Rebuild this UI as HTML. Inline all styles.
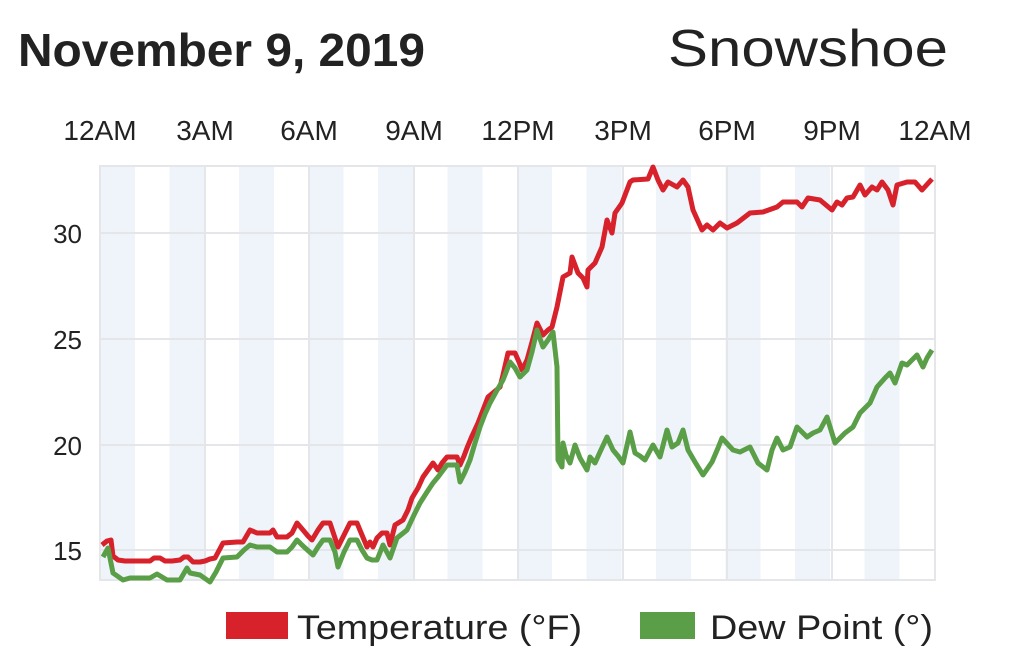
<!DOCTYPE html>
<html><head><meta charset="utf-8"><style>
html,body{margin:0;padding:0;background:#fff;}
svg{display:block;}
text{font-family:"Liberation Sans",sans-serif;fill:#222;}
</style></head><body>
<svg width="1024" height="652" viewBox="0 0 1024 652" xmlns="http://www.w3.org/2000/svg">
<rect width="1024" height="652" fill="#fff"/>
<text x="18" y="66" font-size="46" font-weight="bold" textLength="407" lengthAdjust="spacingAndGlyphs">November 9, 2019</text>
<text x="668" y="66" font-size="52" textLength="280" lengthAdjust="spacingAndGlyphs">Snowshoe</text>
<g font-size="28" text-anchor="middle">
<text x="100" y="140">12AM</text><text x="205" y="140">3AM</text><text x="309" y="140">6AM</text><text x="414" y="140">9AM</text><text x="518" y="140">12PM</text><text x="623" y="140">3PM</text><text x="727" y="140">6PM</text><text x="832" y="140">9PM</text><text x="935" y="140">12AM</text>
</g>
<g fill="#eef4fa">
<rect x="100" y="166" width="35" height="414"/><rect x="169.5" y="166" width="35" height="414"/><rect x="239" y="166" width="35" height="414"/><rect x="308.5" y="166" width="35" height="414"/><rect x="378" y="166" width="35" height="414"/><rect x="447.5" y="166" width="35" height="414"/><rect x="517" y="166" width="35" height="414"/><rect x="586.5" y="166" width="35" height="414"/><rect x="656" y="166" width="35" height="414"/><rect x="725.5" y="166" width="35" height="414"/><rect x="795" y="166" width="35" height="414"/><rect x="864.5" y="166" width="35" height="414"/>
</g>
<g stroke="#e4e6ea" stroke-width="2" fill="none">
<rect x="100" y="166" width="835" height="414"/>
<line x1="205" y1="166" x2="205" y2="580"/><line x1="309" y1="166" x2="309" y2="580"/><line x1="414" y1="166" x2="414" y2="580"/><line x1="518" y1="166" x2="518" y2="580"/><line x1="623" y1="166" x2="623" y2="580"/><line x1="727" y1="166" x2="727" y2="580"/><line x1="832" y1="166" x2="832" y2="580"/>
<line x1="100" y1="233" x2="935" y2="233"/><line x1="100" y1="339" x2="935" y2="339"/><line x1="100" y1="445" x2="935" y2="445"/><line x1="100" y1="550" x2="935" y2="550"/>
</g>
<g font-size="26" text-anchor="end">
<text x="82" y="243">30</text><text x="82" y="349">25</text><text x="82" y="455">20</text><text x="82" y="560">15</text>
</g>
<polyline fill="none" stroke="#d7212b" stroke-width="5" stroke-linejoin="round" points="102,545 107,541 111,540 113,556 118,560 125,561 150,561 154,558 160,558 165,561 172,561 180,560 184,557 188,557 193,562 200,562 205,561 210,559 215,558 223,543 237,542 243,542 250,530 257,533 270,533 273,530 277,537 287,537 292,533 297,523 303,530 308,536 312,540 318,530 323,523 330,523 334,535 338,547 344,535 350,523 357,523 362,535 367,547 370,542 373,547 377,538 382,533 387,533 390,545 395,525 403,520 408,510 412,498 418,488 423,477 428,470 433,463 438,470 442,463 447,457 457,457 460,465 464,456 467,448 472,436 478,423 483,410 488,397 494,392 500,387 503,375 508,353 515,353 519,362 522,370 527,360 532,342 537,323 543,335 548,330 552,327 557,307 563,277 570,273 572,257 578,273 583,278 587,287 588,270 595,263 602,247 607,220 612,233 615,213 622,203 630,182 633,180 648,179 653,167 658,180 663,190 668,182 677,187 683,180 688,187 693,210 702,230 707,225 713,230 720,223 727,228 737,223 750,213 763,212 777,207 783,202 797,202 802,207 808,198 820,200 832,210 837,202 842,205 847,198 853,197 860,185 865,195 872,187 877,190 882,182 888,190 893,205 897,185 907,182 915,182 922,190 932,179"/>
<polyline fill="none" stroke="#5a9e48" stroke-width="5" stroke-linejoin="round" points="103,557 108,548 113,573 123,580 130,578 150,578 157,574 167,580 180,580 187,568 190,573 200,575 210,582 216,572 223,558 237,557 244,550 250,545 257,547 270,547 277,552 287,552 292,547 297,540 303,546 313,555 318,547 323,540 330,540 335,552 338,567 344,552 350,540 357,540 362,550 367,558 372,560 377,560 383,545 390,558 397,538 407,530 414,515 420,503 427,492 433,483 438,477 447,465 457,465 460,482 465,472 470,460 475,443 480,427 485,414 490,403 496,392 503,380 510,362 515,368 520,377 527,370 532,352 537,330 543,347 548,340 553,332 557,367 558,460 562,467 563,443 566,455 570,463 575,445 580,458 587,470 590,457 595,463 600,452 607,437 613,450 618,456 623,463 630,432 635,453 640,456 645,460 653,445 660,457 667,430 672,447 678,443 683,430 688,450 695,462 703,475 712,462 718,448 722,438 733,450 740,452 750,447 758,463 767,470 772,450 777,438 783,450 790,447 797,427 807,437 813,433 820,430 827,417 835,443 845,433 853,427 860,413 865,408 870,403 877,387 885,378 890,373 895,383 902,363 907,365 912,360 917,355 923,367 927,358 932,350"/>
<rect x="226" y="612" width="62" height="27" fill="#d7212b"/>
<text x="297" y="639" font-size="34" textLength="285" lengthAdjust="spacingAndGlyphs">Temperature (°F)</text>
<rect x="640" y="612" width="55" height="27" fill="#5a9e48"/>
<text x="710" y="639" font-size="34" textLength="223" lengthAdjust="spacingAndGlyphs">Dew Point (°)</text>
</svg>
</body></html>
